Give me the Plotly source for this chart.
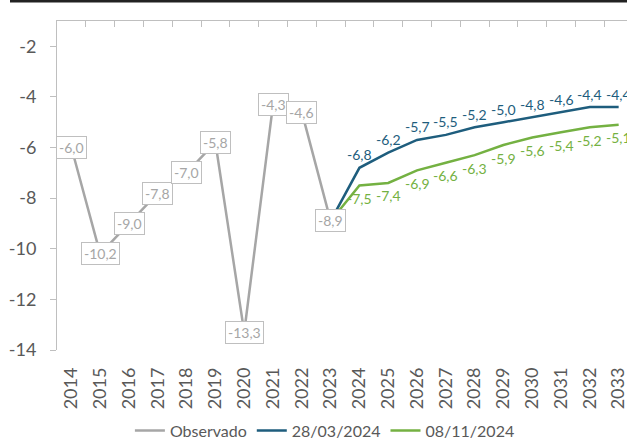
import plotly.graph_objects as go

# Years on the horizontal axis
years = list(range(2014, 2034))

# Observed results (2014-2023)
observed_years = list(range(2014, 2024))
observed = [-6.0, -10.2, -9.0, -7.8, -7.0, -5.8, -13.3, -4.3, -4.6, -8.9]

# Projections starting from the last observed year
proj_years = list(range(2023, 2034))
proj_mar = [-8.9, -6.8, -6.2, -5.7, -5.5, -5.2, -5.0, -4.8, -4.6, -4.4, -4.4]
proj_nov = [-8.9, -7.5, -7.4, -6.9, -6.6, -6.3, -5.9, -5.6, -5.4, -5.2, -5.1]

y_ticks = [-2, -4, -6, -8, -10, -12, -14]

GRAY = "#A6A6A6"
BLUE = "#1E5D7D"
GREEN = "#74B142"
AXIS = "#BFBFBF"
TEXT = "#595959"
FONT = "Lato"


def fmt(v):
    return f"{v:.1f}".replace(".", ",")


fig = go.Figure()

# The observed line sits on the top-side axis (same range) so that axis is drawn
fig.add_trace(go.Scatter(
    x=observed_years, y=observed, mode="lines", name="Observado",
    line=dict(color=GRAY, width=2.5), xaxis="x2", yaxis="y",
))
fig.add_trace(go.Scatter(
    x=proj_years, y=proj_mar, mode="lines", name="28/03/2024",
    line=dict(color=BLUE, width=2.5),
))
fig.add_trace(go.Scatter(
    x=proj_years, y=proj_nov, mode="lines", name="08/11/2024",
    line=dict(color=GREEN, width=2.5),
))

# Boxed value labels on the observed series
for yr, v in zip(observed_years, observed):
    fig.add_annotation(
        x=yr, y=v, text=fmt(v), showarrow=False,
        bgcolor="white", bordercolor=AXIS, borderwidth=1, borderpad=2,
        font=dict(family=FONT, size=14, color=GRAY),
    )

# Projection labels: above the March line, below the November line
for yr, v in zip(proj_years[1:], proj_mar[1:]):
    fig.add_annotation(
        x=yr, y=v, text=fmt(v), showarrow=False, yshift=13,
        font=dict(family=FONT, size=14, color=BLUE),
    )
for yr, v in zip(proj_years[1:], proj_nov[1:]):
    fig.add_annotation(
        x=yr, y=v, text=fmt(v), showarrow=False, yshift=-13,
        font=dict(family=FONT, size=14, color=GREEN),
    )

x_range = [2013.5, 2033.29]

fig.update_layout(
    width=627, height=439,
    margin=dict(l=57, r=0, t=21, b=89, autoexpand=False),
    paper_bgcolor="white", plot_bgcolor="white",
    font=dict(family=FONT, color=TEXT),
    xaxis=dict(
        range=x_range, tickmode="array", tickvals=years,
        ticktext=[str(y) for y in years], tickangle=-90,
        showline=False, showgrid=False, zeroline=False, ticks="",
        ticklabelstandoff=13, ticklabeloverflow="allow",
        tickfont=dict(family=FONT, size=18, color=TEXT),
    ),
    xaxis2=dict(
        range=x_range, overlaying="x", anchor="y", side="top",
        tickmode="array", tickvals=[2013.5 + k for k in range(21)],
        showticklabels=False, ticks="inside", ticklen=6, tickcolor=AXIS,
        tickwidth=1, showline=True, linecolor=AXIS, linewidth=1,
        showgrid=False, zeroline=False,
    ),
    yaxis=dict(
        range=[-14, -1], tickmode="array", tickvals=y_ticks,
        ticktext=[str(t) for t in y_ticks],
        showline=True, linecolor=AXIS, linewidth=1,
        ticks="outside", ticklen=6, tickcolor=AXIS,
        showgrid=False, zeroline=False, ticklabelstandoff=10,
        tickfont=dict(family=FONT, size=18, color=TEXT),
    ),
    legend=dict(
        orientation="h", x=0.47, y=-0.245, xanchor="center", yanchor="middle",
        font=dict(family=FONT, size=16, color=TEXT),
        bgcolor="rgba(0,0,0,0)", traceorder="normal",
    ),
    showlegend=True,
)

# Dark rule across the top edge
fig.add_shape(
    type="rect", xref="paper", yref="paper",
    x0=-47 / 570, x1=1.0, y0=1 + 18.5 / 329, y1=1 + 21 / 329,
    fillcolor="#222222", line=dict(width=0), layer="above",
)

fig.write_html("out.html")
